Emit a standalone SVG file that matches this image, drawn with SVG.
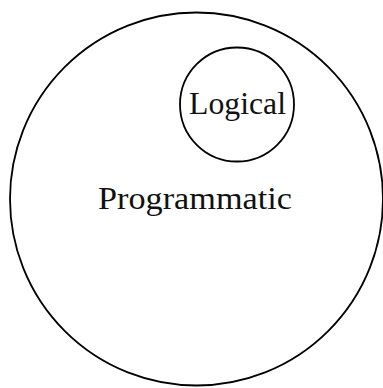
<svg xmlns="http://www.w3.org/2000/svg" width="383" height="388" viewBox="0 0 383 388">
<style>
.c{fill:none;stroke:#000;stroke-width:1.8}
.t{font-family:"Liberation Serif","Times New Roman",serif;font-size:31.5px;fill:#111}
</style>
<rect width="383" height="388" fill="#fff"/>
<g id="programmatic">
<circle class="c" cx="196.5" cy="199" r="186.5"/>
<text class="t" x="98" y="208.5" textLength="194" lengthAdjust="spacingAndGlyphs">Programmatic</text>
</g>
<g id="logical">
<circle class="c" cx="237" cy="104.5" r="57"/>
<text class="t" x="189" y="114" textLength="97" lengthAdjust="spacingAndGlyphs">Logical</text>
</g>
<g id="connectors"></g>
</svg>
